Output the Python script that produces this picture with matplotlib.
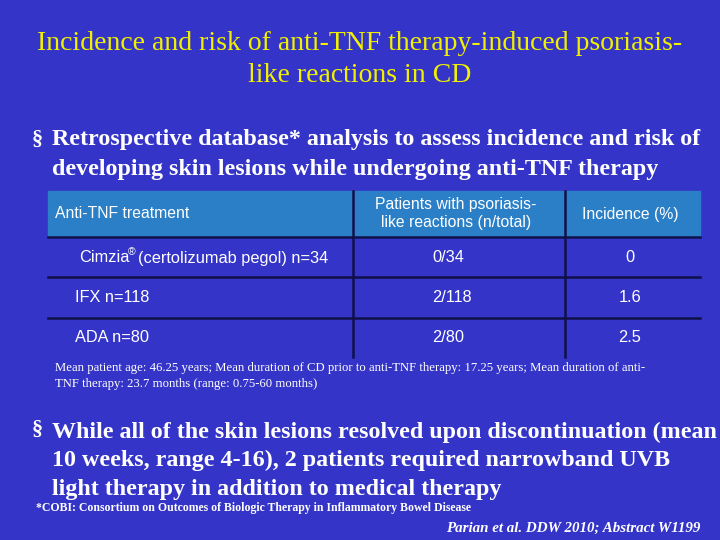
import matplotlib
matplotlib.use("Agg")
import matplotlib.pyplot as plt

BG = "#3434c8"; HEAD = "#2a7fc6"; LINE = "#10104a"; YEL = "#f0f000"
SERIF = "Liberation Serif"; SANS = "Liberation Sans"

title = ["Incidence and risk of anti-TNF therapy-induced psoriasis-", "like reactions in CD"]
headers = ["Anti-TNF treatment", "Patients with psoriasis-\nlike reactions (n/total)", "Incidence (%)"]
treatments = ["Cimzia", "IFX n=118", "ADA n=80"]
ratios = ["0/34", "2/118", "2/80"]
incidence = ["0", "1.6", "2.5"]

fig = plt.figure(figsize=(7.2, 5.4), dpi=100, facecolor=BG)
ax = fig.add_axes([0, 0, 1, 1]); ax.set_xlim(0, 720); ax.set_ylim(540, 0); ax.axis("off")

ax.text(360, 44, title[0], ha="center", va="center", fontsize=20, color=YEL, family=SERIF)
ax.text(360, 76, title[1], ha="center", va="center", fontsize=20, color=YEL, family=SERIF)

ax.text(32, 140, "§", fontsize=16, color="white", family=SERIF, fontweight="bold", va="center")
ax.text(52, 140, "Retrospective database* analysis to assess incidence and risk of", fontsize=17.3,
        color="white", family=SERIF, fontweight="bold", va="center")
ax.text(52, 169, "developing skin lesions while undergoing anti-TNF therapy", fontsize=17.3,
        color="white", family=SERIF, fontweight="bold", va="center")

# table
ax.add_patch(plt.Rectangle((48, 191), 652, 46, color=HEAD, zorder=1))
cols = [(55, "left"), (456, "center"), (630, "center")]
for (x, ha), h in zip(cols, headers):
    ax.text(x, 214, h, ha=ha, va="center", fontsize=11.3, color="white", family=SANS, linespacing=1.25)
for y in (237, 277, 318):
    ax.plot([48, 700], [y, y], color=LINE, lw=1.8, zorder=2)
for x in (353, 565):
    ax.plot([x, x], [191, 357], color=LINE, lw=1.8, zorder=2)
rows_y = [258, 298, 338]
for y, t, r, i in zip(rows_y, treatments, ratios, incidence):
    if t == "Cimzia":
        ax.text(79, y, "Cimzia", ha="left", va="center", fontsize=11.8, color="white", family=SANS)
        ax.text(128, y - 6, "®", ha="left", va="center", fontsize=7.5, color="white", family=SANS)
        ax.text(138, y, "(certolizumab pegol) n=34", ha="left", va="center", fontsize=11.8, color="white", family=SANS)
    else:
        ax.text(75, y, t, ha="left", va="center", fontsize=11.8, color="white", family=SANS)
    ax.text(432, y, r, ha="left", va="center", fontsize=11.8, color="white", family=SANS)
    ax.text(630, y, i, ha="center", va="center", fontsize=11.8, color="white", family=SANS)

ax.text(55, 368, "Mean patient age: 46.25 years; Mean duration of CD prior to anti-TNF therapy: 17.25 years; Mean duration of anti-",
        fontsize=9.2, color="white", family=SERIF, va="center")
ax.text(55, 384, "TNF therapy: 23.7 months (range: 0.75-60 months)", fontsize=9.2, color="white", family=SERIF, va="center")

ax.text(32, 430, "§", fontsize=16, color="white", family=SERIF, fontweight="bold", va="center")
for k, ln in enumerate(["While all of the skin lesions resolved upon discontinuation (mean",
                        "10 weeks, range 4-16), 2 patients required narrowband UVB",
                        "light therapy in addition to medical therapy"]):
    ax.text(52, 432 + 28.5 * k, ln, fontsize=17.3, color="white", family=SERIF, fontweight="bold", va="center")

ax.text(36, 508, "*COBI: Consortium on Outcomes of Biologic Therapy in Inflammatory Bowel Disease",
        fontsize=8.5, color="white", family=SERIF, fontweight="bold", va="center")
ax.text(700, 528, "Parian et al. DDW 2010; Abstract W1199", ha="right", fontsize=10.8, color="white",
        family=SERIF, fontweight="bold", style="italic", va="center")

fig.savefig("out.png", dpi=100, facecolor=BG)
